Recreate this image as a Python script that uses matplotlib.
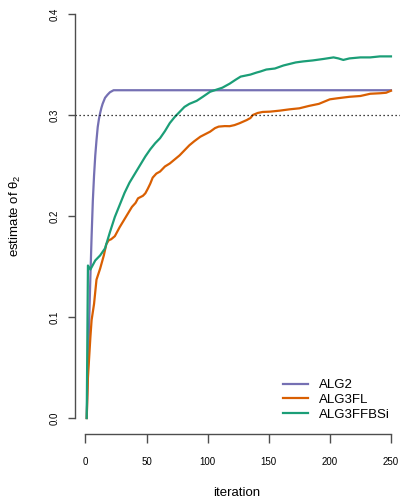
import matplotlib
matplotlib.use("Agg")
from matplotlib import pyplot as plt

# values
alg2_iter = [1, 2, 3, 4, 5, 6, 7, 8, 9, 10, 11, 12, 13, 14, 15, 16, 18, 20, 23, 250]
alg2_val = [0.0, 0.05, 0.095, 0.14, 0.18, 0.215, 0.24, 0.26, 0.275, 0.288, 0.296,
            0.302, 0.307, 0.311, 0.314, 0.317, 0.320, 0.3225, 0.3245, 0.3245]

fl_iter = [1, 2, 3, 4, 5, 7, 9, 12, 15, 17, 19, 21, 24, 28, 32, 35, 38, 41, 43, 47,
           49, 51, 53, 55, 58, 61, 65, 69, 73, 77, 81, 85, 89, 94, 98, 102, 106, 109,
           114, 118, 122, 126, 132, 135, 137, 141, 145, 151, 159, 167, 175, 183, 191,
           200, 206, 216, 225, 233, 241, 246, 250]
fl_val = [0.0, 0.04, 0.06, 0.08, 0.097, 0.113, 0.137, 0.148, 0.161, 0.172, 0.176,
          0.177, 0.180, 0.189, 0.197, 0.203, 0.209, 0.213, 0.2175, 0.220, 0.2225,
          0.227, 0.232, 0.238, 0.242, 0.244, 0.249, 0.252, 0.256, 0.260, 0.265, 0.270,
          0.274, 0.2785, 0.281, 0.2835, 0.287, 0.2885, 0.289, 0.2889, 0.290, 0.2918,
          0.295, 0.297, 0.300, 0.302, 0.303, 0.3033, 0.3043, 0.3056, 0.3066, 0.309,
          0.311, 0.3155, 0.3165, 0.318, 0.3188, 0.321, 0.3215, 0.322, 0.324]

ffbsi_iter = [1, 2, 4, 8, 12, 16, 20, 24, 28, 32, 36, 40, 45, 49, 53, 57, 61, 65, 69,
              73, 77, 81, 85, 91, 96, 102, 107, 112, 118, 123, 127, 131, 135, 140, 143,
              148, 155, 162, 167, 172, 178, 186, 195, 203, 207, 211, 216, 225, 233, 241,
              250]
ffbsi_val = [0.0, 0.151, 0.147, 0.156, 0.161, 0.168, 0.184, 0.199, 0.211, 0.223,
             0.233, 0.241, 0.251, 0.259, 0.266, 0.272, 0.277, 0.284, 0.292, 0.298,
             0.303, 0.308, 0.311, 0.314, 0.318, 0.323, 0.325, 0.327, 0.331, 0.335,
             0.338, 0.339, 0.340, 0.342, 0.343, 0.345, 0.346, 0.349, 0.3505, 0.352,
             0.353, 0.354, 0.3555, 0.357, 0.356, 0.3545, 0.356, 0.357, 0.357, 0.358,
             0.358]

true_value = 0.3
labels = ["ALG2", "ALG3FL", "ALG3FFBSi"]
colors = ["#7570B3", "#D95F02", "#1B9E77"]

plt.rcParams['font.family'] = ['Liberation Sans', 'DejaVu Sans']
plt.rcParams['mathtext.fontset'] = 'custom'
plt.rcParams['mathtext.rm'] = 'Liberation Sans'
plt.rcParams['mathtext.it'] = 'Liberation Sans:italic'

fig = plt.figure(figsize=(4, 5), dpi=100)
ax = fig.add_axes([74.5 / 400, 65.8 / 500, 325.5 / 400, 436.4 / 500])

ax.plot(alg2_iter, alg2_val, color=colors[0], lw=1.6, label=labels[0])
ax.plot(fl_iter, fl_val, color=colors[1], lw=1.6, label=labels[1])
ax.plot(ffbsi_iter, ffbsi_val, color=colors[2], lw=1.6, label=labels[2])
ax.axhline(true_value, color="black", lw=0.9, dashes=(1, 2.2))

ax.set_xlim(-9, 257.4)
ax.set_ylim(-0.016, 0.416)
ax.set_xticks([0, 50, 100, 150, 200, 250])
ax.set_yticks([0.0, 0.1, 0.2, 0.3, 0.4])
ax.set_yticklabels(["0.0", "0.1", "0.2", "0.3", "0.4"], rotation=90, va="center")

for s in ["top", "right"]:
    ax.spines[s].set_visible(False)
ax.spines["left"].set_bounds(0, 0.4)
ax.spines["bottom"].set_bounds(0, 250)
for s in ["left", "bottom"]:
    ax.spines[s].set_color("0.3")
    ax.spines[s].set_linewidth(1)

ax.tick_params(axis="x", length=6.5, width=1, color="0.3", pad=10, labelsize=7)
ax.tick_params(axis="y", length=5, width=1, color="0.3", pad=6, labelsize=7)

fig.text(237 / 400, 1 - 493 / 500, "iteration", ha="center", va="center", fontsize=9.5)
fig.text(15 / 400, 1 - 216 / 500, r"estimate of $\mathrm{θ}_{2}$", ha="center",
         va="center", rotation=90, fontsize=9.5)

ax.legend(loc="upper left", bbox_to_anchor=(283 / 400, 1 - 379 / 500),
          bbox_transform=fig.transFigure, frameon=False, borderpad=0,
          borderaxespad=0, handlelength=1.9, handletextpad=0.85, labelspacing=0.2,
          fontsize=9.5)

fig.savefig("out.png", dpi=100)
